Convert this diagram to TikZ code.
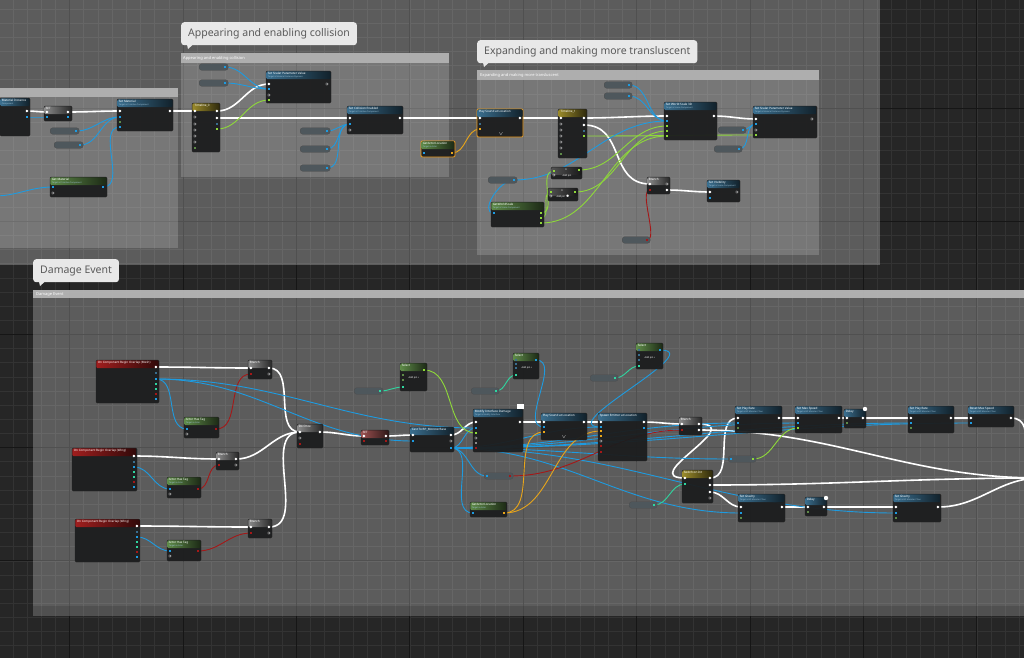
\documentclass[tikz,border=0pt]{standalone}
\usepackage{fontspec}
\setmainfont{Noto Sans}
\usetikzlibrary{calc}
\pgfdeclarelayer{bg}
\pgfdeclarelayer{wl}
\pgfsetlayers{bg,wl,main}
\definecolor{bgdark}{HTML}{262626}
\definecolor{gridminor}{HTML}{333333}
\definecolor{gridmajor}{HTML}{161616}
\definecolor{hdrbar}{HTML}{B4B4B4}
\definecolor{nodebody}{HTML}{1C1D1E}
\definecolor{subtxt}{HTML}{9FC3D8}
\definecolor{pillc}{HTML}{4E575C}
\definecolor{bubc}{HTML}{E8E8E8}
\definecolor{bubtxt}{HTML}{5A5A5A}
\definecolor{hblue}{HTML}{3A6E8E}
\definecolor{hgreen}{HTML}{5E8A48}
\definecolor{hred}{HTML}{A01E1E}
\definecolor{hgray}{HTML}{8A8A8A}
\definecolor{holive}{HTML}{9A8A2A}
\definecolor{hredg}{HTML}{9A5050}
\definecolor{wblue}{HTML}{1E9BE0}
\definecolor{wgreen}{HTML}{8ED83A}
\definecolor{wred}{HTML}{A41818}
\definecolor{worange}{HTML}{E8A51A}
\definecolor{wteal}{HTML}{2FD6A0}
\definecolor{selorange}{HTML}{F0A020}
\tikzset{
 bpbody/.style={draw=black!85, line width=0.3pt, fill=nodebody, fill opacity=0.95, rounded corners=1.2pt, inner sep=0pt, outer sep=0pt, rectangle},
 bptitle/.style={anchor=west, inner sep=0pt, font=\fontsize{3}{3}\selectfont, text=white},
 bpsub/.style={anchor=west, inner sep=0pt, font=\fontsize{2.1}{2.1}\selectfont, text=subtxt},
 tinytxt/.style={inner sep=0pt, font=\fontsize{2.4}{2.4}\selectfont, text=white!85},
 pillst/.style={fill=pillc, draw=black!70, line width=0.3pt, rounded corners=2.6pt, minimum height=6.5pt, inner sep=0pt, rectangle},
 bubble/.style={fill=bubc, rounded corners=3pt, text=bubtxt, font=\fontsize{10.5}{12}\selectfont, inner xsep=7pt, inner ysep=0pt, minimum height=23pt, anchor=north west},
 hdrtxt/.style={anchor=west, inner sep=0pt, font=\fontsize{4}{4}\selectfont, text=white!92},
 ex/.style={draw=white, line width=1.6pt},
 bw/.style={draw=wblue, line width=0.9pt},
 gw/.style={draw=wgreen, line width=0.9pt},
 rw/.style={draw=wred, line width=0.9pt},
 ow/.style={draw=worange, line width=0.9pt},
 tw/.style={draw=wteal, line width=0.9pt},
 selected/.style={draw=selorange, line width=0.8pt},
}
% node: [opt]{name}{x1}{y1}{x2}{y2}{color}{title}{subtitle}
\newcommand\bpn[9][]{%
 \node[bpbody,#1,minimum width={#5-#3},minimum height={#6-#4},anchor=north west] (#2) at (#3,#4) {};
 \shade[left color=#7, right color=#7!30!black, rounded corners=1pt] ({#3+0.4},{#4+0.4}) rectangle ({#5-0.4},{#4+8});
 \node[bptitle] at ({#3+1.6},{#4+2.8}) {#8};
 \node[bpsub] at ({#3+1.6},{#4+6.1}) {#9};
}
\newcommand\epin[3]{\coordinate (#1) at (#2,#3);
 \fill[white] ({#2-1.2},{#3-1.2}) -- ({#2+0.3},{#3-1.2}) -- ({#2+1.3},#3) -- ({#2+0.3},{#3+1.2}) -- ({#2-1.2},{#3+1.2}) -- cycle;}
\newcommand\dpin[4]{\coordinate (#1) at (#2,#3);
 \fill[#4] ({#2-1.1},{#3-1.1}) rectangle ({#2+1.1},{#3+1.1});}
\newcommand\hpin[2]{\draw[white!85, line width=0.3pt] ({#1-1},{#2-1}) -- ({#1+0.3},{#2-1}) -- ({#1+1.1},#2) -- ({#1+0.3},{#2+1}) -- ({#1-1},{#2+1}) -- cycle;}
% pill: {name}{x1}{x2}{y}{color}
\newcommand\bppill[5]{%
 \node[pillst, minimum width={#3-#2}, anchor=west] (#1) at (#2,#4) {};
 \coordinate (#1o) at ({#3-3},#4);
 \coordinate (#1i) at ({#2+3},#4);
 \fill[#5] ({#3-4.2},{#4-1.1}) rectangle ({#3-2},{#4+1.1});}
\newcommand\bpw[3]{\draw[#1] (#2) to[out=0,in=180] (#3);}
\newcommand\bubblebox[4]{% name, x, y, text
 \node[bubble] (#1) at (#2,#3) {#4};
 \fill[bubc] ({#2+6},{#3+22.5}) -- ({#2+12},{#3+22.5}) -- ({#2+7},{#3+27}) -- cycle;}
\newcommand\dotc[2]{\fill[white] (#1,#2) circle (2.2pt);}
\begin{document}
\begin{tikzpicture}[x=1pt,y=-1pt]
\useasboundingbox (0,0) rectangle (1024,657);
\begin{pgfonlayer}{bg}
\fill[bgdark] (-5,-5) rectangle (1030,662);
\foreach \k in {-13,...,59} {\pgfmathsetmacro\xx{183+14.175*\k}
  \draw[gridminor, line width=0.6pt] (\xx,-5) -- (\xx,662);}
\foreach \k in {-8,...,39} {\pgfmathsetmacro\yy{108+14.15*\k}
  \draw[gridminor, line width=0.6pt] (-5,\yy) -- (1030,\yy);}
\foreach \k in {-1,...,7} {\pgfmathsetmacro\xx{183+113.4*\k}
  \draw[gridmajor, line width=1pt] (\xx,-5) -- (\xx,662);}
\foreach \k in {-1,...,4} {\pgfmathsetmacro\yy{108+113.2*\k}
  \draw[gridmajor, line width=1pt] (-5,\yy) -- (1030,\yy);}
% big top region
\fill[white, fill opacity=0.25] (-5,-5) rectangle (880,265);
% left comment box
\fill[white, fill opacity=0.17] (-5,88) rectangle (178,248);
\fill[hdrbar, fill opacity=0.9] (-5,88) rectangle (178,97);
% appearing comment
\fill[white, fill opacity=0.17] (181,53) rectangle (449,177);
\fill[hdrbar, fill opacity=0.9] (181,53) rectangle (449,63);
\node[hdrtxt] at (183,58) {Appearing and enabling collision};
% expanding comment
\fill[white, fill opacity=0.17] (477,70) rectangle (819,255);
\fill[hdrbar, fill opacity=0.9] (477,70) rectangle (819,80);
\node[hdrtxt] at (480,75) {Expanding and making more transluscent};
% damage event comment
\fill[white, fill opacity=0.25] (33,290) rectangle (1030,616);
\fill[hdrbar, fill opacity=0.95] (33,290) rectangle (1030,298);
\node[hdrtxt] at (36,294.5) {Damage Event};
\fill[black, fill opacity=0.12] (33,606) rectangle (1030,616);
\end{pgfonlayer}

% bubbles
\bubblebox{bA}{181}{22}{Appearing and enabling collision}
\bubblebox{bB}{477}{40}{Expanding and making more transluscent}
\bubblebox{bC}{33}{259}{Damage Event}

%================ top-left ================
\bpn{nA}{0}{98}{30}{136}{hblue}{Material Instance}{Component}
\epin{Aeo}{27}{111}\dpin{Abo}{27}{117}{wblue}
\bpn{nSetV}{44}{106}{72}{121}{hgray}{SET}{}
\epin{SVi}{47}{112}\epin{SVo}{68}{112}\dpin{SVb}{47}{117}{wblue}\dpin{SVbo}{68}{117}{wblue}
\bppill{p1}{50}{79}{131}{wblue}
\bppill{p2}{54}{83}{145}{wblue}
\bpn{nSetMat}{117}{99}{173}{131}{hblue}{Set Material}{Target is Primitive Component}
\epin{SMi}{120}{111}\epin{SMo}{170}{111}\dpin{SMb}{120}{117}{wblue}\dpin{SMg}{120}{122}{hgreen}\dpin{SMm}{120}{127}{wblue}
\bpn{nGetMat}{50}{177}{107}{197}{hgreen}{Get Material}{Target is Primitive Component}
\dpin{GMi}{53}{187}{wblue}\hpin{53}{193}\dpin{GMo}{103}{187}{wblue}
\coordinate (L0) at (-6,196);

%================ appearing ================
\bppill{q1}{199}{228}{67}{wblue}
\bppill{q2}{199}{228}{83}{wblue}
\bpn{nSSPV1}{266}{71}{331}{103}{hblue}{Set Scalar Parameter Value}{Target is Material Instance Dynamic}
\epin{S1i}{269}{84}\hpin{327}{84}\dpin{S1b}{269}{89}{wblue}\hpin{269}{95}\dpin{S1g}{269}{100}{wgreen}
\bpn{nTL1}{192}{103}{220}{152}{holive}{\ Timeline\_0}{}
\epin{T1i}{195}{111}\hpin{195}{117}\hpin{195}{124}\hpin{195}{130}\hpin{195}{136}\hpin{195}{142}\dpin{T1x}{195}{148}{hgreen}
\epin{T1o1}{217}{111}\epin{T1o2}{217}{118}\dpin{T1bl}{217}{124}{hblue}\dpin{T1g}{217}{129}{wgreen}
\bpn{nSCE}{347}{106}{403}{134}{hblue}{Set Collision Enabled}{Target is Primitive Component}
\epin{CEi}{350}{118}\epin{CEo}{400}{118}\dpin{CEb}{350}{124}{wblue}\hpin{350}{130}
\bppill{r1}{300}{330}{131}{wblue}
\bppill{r2}{300}{330}{149}{wblue}
\bppill{r3}{300}{330}{168}{wblue}
\bpn[selected]{nGAL1}{421}{141}{455}{157}{hgreen}{GetActorLocation}{Target is Actor}
\dpin{G1i}{424}{153}{wblue}\dpin{G1o}{452}{153}{worange}

%================ expanding ================
\bpn[selected]{nPSL1}{477}{109}{523}{137}{hblue}{Play Sound at Location}{}
\epin{P1i}{480}{118}\epin{P1o}{520}{118}\dpin{P1b}{480}{124}{hblue}\dpin{P1l}{480}{129}{worange}
\node[tinytxt] at (501,134) {$\vee$};
\bpn{nTL2}{558}{109}{587}{158}{holive}{\ Timeline\_1}{}
\epin{T2i}{561}{118}\hpin{561}{124}\hpin{561}{130}\hpin{561}{136}\hpin{561}{142}\hpin{561}{148}\dpin{T2x}{561}{154}{hgreen}
\epin{T2o1}{584}{118}\epin{T2o2}{584}{125}\dpin{T2bl}{584}{131}{hblue}\dpin{T2g}{584}{136}{wgreen}
\bppill{s1}{604}{632}{85}{wblue}
\bppill{s2}{604}{632}{96}{wblue}
\bpn{nSWS}{664}{102}{717}{140}{hblue}{Set World Scale 3D}{Target is Scene Component}
\epin{WSi}{667}{116}\epin{WSo}{714}{116}\dpin{WSb}{667}{121}{wblue}\dpin{WSg1}{667}{126}{wgreen}\dpin{WSg2}{667}{131}{wgreen}\dpin{WSg3}{667}{136}{wgreen}
\bpn{nSSPV2}{753}{106}{817}{138}{hblue}{Set Scalar Parameter Value}{Target is Material Instance Dynamic}
\epin{S2i}{756}{119}\hpin{812}{119}\dpin{S2b}{756}{124}{wblue}\hpin{756}{130}\dpin{S2g}{756}{135}{wgreen}
\bppill{t1}{718}{746}{130}{wblue}
\bppill{t2}{714}{742}{149}{wblue}
\bpn{nMV1}{551}{167}{582}{179}{hgray!60!black}{}{}
\dpin{M1a}{554}{171}{wgreen}\hpin{554}{175}\dpin{M1o}{579}{170}{wgreen}
\node[tinytxt] at (566,170) {0};\node[tinytxt] at (567,176) {Add pin};
\bpn{nMV2}{548}{188}{578}{201}{hgray!60!black}{}{}
\dpin{M2a}{551}{192}{wgreen}\hpin{551}{196}\dpin{M2o}{575}{192}{wgreen}
\node[tinytxt] at (562,191) {0};\node[tinytxt] at (563,197) {Add pin $\bullet$};
\bppill{u1}{488}{517}{180}{wblue}
\bpn{nGWS}{491}{202}{544}{227}{hgreen}{GetWorldScale}{Target is Scene Component}
\dpin{GWi}{494}{213}{wblue}\dpin{GWo1}{541}{213}{wgreen}\dpin{GWo2}{541}{218}{wgreen}\dpin{GWo3}{541}{223}{wgreen}
\bpn{nBr1}{647}{177}{670}{194}{hgray}{Branch}{}
\epin{B1i}{650}{184}\dpin{B1c}{650}{190}{wred}\hpin{667}{184}\epin{B1o}{667}{190}
\bpn{nSV}{707}{180}{740}{202}{hblue}{Set Visibility}{Target is Scene Component}
\epin{SVi2}{710}{192}\hpin{737}{192}\dpin{SVb2}{710}{198}{wblue}
\bppill{v1}{622}{650}{240}{wred}

%================ damage event ================
\bpn{nEv1}{96}{360}{159}{403}{hred}{On Component Begin Overlap (Mesh)}{}
\epin{E1e}{156}{367}\dpin{E1x}{156}{373}{hblue}\dpin{E1b}{156}{379}{wblue}\dpin{E1t}{156}{384}{wteal}\dpin{E1u}{156}{389}{wteal}\dpin{E1r}{156}{394}{wred}\dpin{E1v}{156}{399}{wblue}
\bpn{nBrA}{248}{360}{272}{379}{hgray}{Branch}{}
\epin{BAi}{251}{368}\dpin{BAc}{251}{374}{wred}\epin{BAo}{269}{368}\hpin{269}{374}
\bpn{nTagA}{184}{417}{219}{438}{hgreen}{Actor Has Tag}{Target is Actor}
\dpin{TAi}{187}{429}{wblue}\hpin{187}{434}\dpin{TAo}{216}{429}{wred}
\bpn{nEv2}{72}{448}{137}{491}{hred}{On Component Begin Overlap (Wing)}{}
\epin{E2e}{134}{456}\dpin{E2x}{134}{462}{hblue}\dpin{E2b}{134}{467}{wblue}\dpin{E2t}{134}{472}{wteal}\dpin{E2u}{134}{477}{wteal}\dpin{E2r}{134}{482}{wred}\dpin{E2v}{134}{487}{wblue}
\bpn{nBrB}{216}{452}{239}{470}{hgray}{Branch}{}
\epin{BBi}{219}{459}\dpin{BBc}{219}{465}{wred}\epin{BBo}{236}{459}\hpin{236}{465}
\bpn{nTagB}{167}{477}{201}{498}{hgreen}{Actor Has Tag}{Target is Actor}
\dpin{TBi}{170}{489}{wblue}\hpin{170}{494}\dpin{TBo}{198}{489}{wred}
\bpn{nEv3}{75}{519}{140}{562}{hred}{On Component Begin Overlap (Wing)}{}
\epin{E3e}{137}{526}\dpin{E3x}{137}{532}{hblue}\dpin{E3b}{137}{537}{wblue}\dpin{E3t}{137}{542}{wteal}\dpin{E3u}{137}{547}{wteal}\dpin{E3r}{137}{552}{wred}\dpin{E3v}{137}{557}{wblue}
\bpn{nBrC}{248}{519}{272}{538}{hgray}{Branch}{}
\epin{BCi}{251}{527}\dpin{BCc}{251}{533}{wred}\epin{BCo}{269}{527}\hpin{269}{533}
\bpn{nTagC}{167}{540}{201}{561}{hgreen}{Actor Has Tag}{Target is Actor}
\dpin{TCi}{170}{551}{wblue}\hpin{170}{556}\dpin{TCo}{198}{551}{wred}
\bpn{nDo}{297}{424}{323}{448}{hgray}{Do Once}{}
\epin{DOi}{300}{432}\hpin{300}{438}\dpin{DOr}{300}{444}{wred}\epin{DOo}{320}{432}
\bpn{nNot}{361}{430}{389}{445}{hredg}{SET}{}
\epin{NTi}{364}{436}\epin{NTo}{386}{436}\dpin{NTr}{364}{441}{wred}\dpin{NTr2}{386}{441}{wred}
\bpn{nCast}{410}{427}{454}{452}{hblue}{Cast To BP\_MonsterBase}{}
\epin{CAi}{413}{435}\dpin{CAb}{413}{441}{wblue}\epin{CAo}{451}{435}\hpin{451}{441}\dpin{CAbo}{451}{448}{wblue}
\bpn{nSel1}{400}{363}{427}{391}{hgreen}{Select}{}
\dpin{SAa}{403}{370}{hgreen}\dpin{SAb}{403}{375}{hgreen}\dpin{SAc}{403}{380}{hgreen}\dpin{SAd}{403}{387}{wteal}\dpin{SAo}{424}{370}{wgreen}
\node[tinytxt] at (414,378) {Add pin +};
\bppill{w1}{354}{383}{391}{wteal}
\bpn{nDmg}{473}{409}{523}{452}{hblue}{Modify Interface Damage}{Target is Modify Interface}
\fill[white!85] (517,404) rectangle (524,409);
\epin{DMi}{476}{422}\epin{DMo}{520}{422}\dpin{DMb}{476}{428}{wblue}\dpin{DMg}{476}{433}{wgreen}\hpin{476}{438}\dpin{DMs}{476}{443}{hgray}\dpin{DMr}{476}{448}{wred}
\bpn{nSel2}{513}{353}{539}{379}{hgreen}{Select}{}
\dpin{SBa}{516}{360}{hblue}\dpin{SBb}{516}{364}{hblue}\dpin{SBc}{516}{368}{hblue}\dpin{SBd}{516}{375}{wteal}\dpin{SBo}{536}{360}{wblue}
\node[tinytxt] at (527,368) {Add pin +};
\bppill{w2}{471}{499}{391}{wteal}
\bpn{nSel3}{636}{343}{663}{369}{hgreen}{Select}{}
\dpin{S3a}{639}{350}{hblue}\dpin{S3b}{639}{355}{hblue}\dpin{S3c}{639}{360}{hblue}\dpin{S3d}{639}{366}{wteal}\dpin{S3o}{660}{350}{wblue}
\node[tinytxt] at (650,358) {Add pin +};
\bppill{w3}{590}{618}{378}{wteal}
\bpn{nPSL2}{541}{413}{587}{440}{hblue}{Play Sound at Location}{}
\epin{PLi}{544}{422}\epin{PLo}{584}{422}\dpin{PLb}{544}{427}{wblue}\dpin{PLl}{544}{432}{worange}
\node[tinytxt] at (564,437) {$\vee$};
\bpn{nSpawn}{598}{413}{647}{461}{hblue}{Spawn Emitter at Location}{}
\epin{SPi}{601}{422}\epin{SPo}{644}{422}\dpin{SPb}{601}{427}{wblue}\dpin{SPl}{601}{431}{worange}\dpin{SPl2}{601}{436}{worange}\hpin{601}{441}\dpin{SPr}{601}{446}{wred}\dpin{SPr2}{601}{452}{wred}
\dpin{SPx}{644}{428}{wblue}
\bppill{rp}{484}{513}{476}{wred}
\dpin{RPi}{487}{476}{wblue}
\bpn{nGAL2}{470}{502}{507}{517}{hgreen}{GetActorLocation}{Target is Actor}
\dpin{G2i}{473}{513}{wblue}\dpin{G2o}{504}{513}{worange}
\bpn{nBrD}{679}{417}{702}{435}{hgray}{Branch}{}
\epin{BDi}{682}{424}\dpin{BDc}{682}{430}{wred}\epin{BDo1}{699}{424}\epin{BDo2}{699}{430}
\bpn{nSPR1}{735}{406}{782}{433}{hblue}{Set Play Rate}{Target is BP Monster Chan}
\epin{R1i}{738}{418}\epin{R1o}{779}{418}\dpin{R1b}{738}{423}{wblue}\dpin{R1g}{738}{428}{hgreen}
\bpn{nSMS}{795}{406}{842}{433}{hblue}{Set Max Speed}{Target is BP Monster Chan}
\epin{MSi}{798}{418}\epin{MSo}{839}{418}\dpin{MSb}{798}{423}{wblue}\dpin{MSg}{798}{428}{wgreen}
\bpn{nDel1}{844}{409}{866}{428}{hblue}{Delay}{}
\epin{D1i}{847}{418}\epin{D1o}{863}{418}\dpin{D1g}{847}{423}{hgreen}
\dotc{865}{409}
\bpn{nSPR2}{908}{406}{954}{433}{hblue}{Set Play Rate}{Target is BP Monster Chan}
\epin{R2i}{911}{418}\epin{R2o}{951}{418}\dpin{R2b}{911}{423}{wblue}\dpin{R2g}{911}{428}{hgreen}
\bpn{nRMS}{968}{406}{1014}{427}{hblue}{Reset Max Speed}{Target is BP Monster Chan}
\epin{RMi}{971}{418}\epin{RMo}{1011}{418}\dpin{RMb}{971}{423}{wblue}
\bppill{x1}{728}{756}{459}{wgreen}
\dpin{X1i}{731}{459}{wblue}
\bpn{nSw}{682}{470}{713}{503}{holive}{Switch on Int}{}
\epin{SWi}{685}{478}\dpin{SWt}{685}{484}{wteal}\epin{SWo1}{710}{478}\epin{SWo2}{710}{485}\epin{SWo3}{710}{492}\hpin{710}{498}
\bppill{x2}{629}{657}{505}{wteal}
\bpn{nSG1}{738}{494}{785}{522}{hblue}{Set Gravity}{Target is BP Monster Chan}
\epin{G3i}{741}{507}\epin{G3o}{782}{507}\dpin{G3b}{741}{513}{wblue}\dpin{G3g}{741}{518}{hgreen}
\bpn{nDel2}{805}{497}{827}{516}{hblue}{Delay}{}
\epin{D2i}{808}{507}\epin{D2o}{824}{507}\dpin{D2g}{808}{512}{hgreen}
\dotc{826}{498}
\bpn{nSG2}{893}{494}{941}{522}{hblue}{Set Gravity}{Target is BP Monster Chan}
\epin{G4i}{896}{507}\epin{G4o}{938}{507}\dpin{G4b}{896}{513}{wblue}\dpin{G4g}{896}{518}{hgreen}
\coordinate (EE) at (1040,478);

%================ wires ================
\begin{pgfonlayer}{wl}
% top-left
\bpw{ex}{Aeo}{SVi}\bpw{ex}{SVo}{SMi}\bpw{ex}{SMo}{T1i}
\bpw{bw}{Abo}{SVb}\bpw{bw}{p1o}{SMb}\bpw{bw}{p2o}{SMb}\bpw{bw}{GMo}{SMm}\bpw{bw}{L0}{GMi}
% appearing
\bpw{ex}{T1o1}{S1i}\bpw{ex}{T1o2}{CEi}\bpw{gw}{T1g}{S1g}
\bpw{bw}{q1o}{S1b}\bpw{bw}{q2o}{S1b}
\bpw{bw}{r1o}{CEb}\bpw{bw}{r2o}{CEb}\bpw{bw}{r3o}{CEb}
\bpw{ex}{CEo}{P1i}\bpw{ow}{G1o}{P1l}
% expanding
\bpw{ex}{P1o}{T2i}\bpw{ex}{T2o1}{WSi}\bpw{ex}{WSo}{S2i}
\draw[ex] (T2o2) to[out=0,in=180,looseness=1.2] (B1i);
\bpw{ex}{B1o}{SVi2}
\bpw{gw}{T2g}{S2g}
\bpw{bw}{s1o}{WSb}\bpw{bw}{s2o}{WSb}\bpw{bw}{t1o}{S2b}\bpw{bw}{t2o}{S2b}
\bpw{bw}{u1o}{WSb}\draw[bw] (u1o) to[out=180,in=180] (GWi);
\bpw{gw}{GWo1}{M1a}\bpw{gw}{GWo2}{M2a}\bpw{gw}{GWo3}{WSg3}
\bpw{gw}{M1o}{WSg1}\bpw{gw}{M2o}{WSg2}
\draw[rw] (v1o) to[out=0,in=180,looseness=0.6] (B1c);
% damage exec
\bpw{ex}{E1e}{BAi}\bpw{ex}{E2e}{BBi}\bpw{ex}{E3e}{BCi}
\bpw{ex}{BAo}{DOi}\bpw{ex}{BBo}{DOi}\bpw{ex}{BCo}{DOi}
\bpw{ex}{DOo}{NTi}\bpw{ex}{NTo}{CAi}\bpw{ex}{CAo}{DMi}
\bpw{ex}{DMo}{PLi}\bpw{ex}{PLo}{SPi}\bpw{ex}{SPo}{BDi}
\draw[ex] (BDo1) to[out=0,in=180,looseness=2.2] (SWi);
\bpw{ex}{SWo1}{R1i}\bpw{ex}{SWo2}{EE}\bpw{ex}{SWo3}{G3i}
\bpw{ex}{BDo2}{EE}
\bpw{ex}{R1o}{MSi}\bpw{ex}{MSo}{D1i}\bpw{ex}{D1o}{R2i}\bpw{ex}{R2o}{RMi}
\draw[ex] (RMo) to[out=0,in=180,looseness=1.2] (EE);
\bpw{ex}{G3o}{D2i}\bpw{ex}{D2o}{G4i}\bpw{ex}{G4o}{EE}
% damage data
\bpw{bw}{E1b}{TAi}\bpw{bw}{E2b}{TBi}\bpw{bw}{E3b}{TCi}
\bpw{rw}{TAo}{BAc}\bpw{rw}{TBo}{BBc}\bpw{rw}{TCo}{BCc}
\bpw{bw}{E1b}{CAb}\bpw{bw}{E1b}{DMb}
\bpw{bw}{CAbo}{DMb}\bpw{bw}{CAbo}{RPi}\bpw{bw}{CAbo}{G2i}
\bpw{bw}{CAbo}{R1b}\bpw{bw}{CAbo}{MSb}\bpw{bw}{CAbo}{R2b}\bpw{bw}{CAbo}{RMb}
\bpw{bw}{CAbo}{X1i}\bpw{bw}{CAbo}{G3b}\bpw{bw}{CAbo}{G4b}\bpw{bw}{CAbo}{SPb}
\bpw{rw}{rpo}{BDc}
\bpw{ow}{G2o}{PLl}\bpw{ow}{G2o}{SPl}
\bpw{gw}{SAo}{DMg}
\bpw{bw}{SBo}{PLb}
\draw[bw] (S3o) to[out=0,in=180,looseness=1.3] (SPb);
\bpw{tw}{w1o}{SAd}\bpw{tw}{w2o}{SBd}\bpw{tw}{w3o}{S3d}
\bpw{tw}{x2o}{SWt}
\bpw{gw}{x1o}{MSg}
\end{pgfonlayer}
\end{tikzpicture}
\end{document}
